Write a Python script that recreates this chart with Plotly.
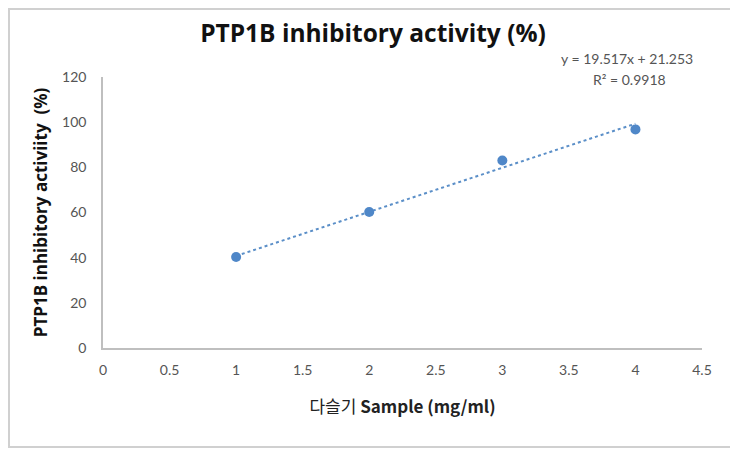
import plotly.graph_objects as go

sample_conc = [1, 2, 3, 4]
inhibition = [40.3, 60.2, 83.0, 96.8]
trend_slope = 19.517
trend_intercept = 21.253
x_ticks = [0, 0.5, 1, 1.5, 2, 2.5, 3, 3.5, 4, 4.5]
y_ticks = [0, 20, 40, 60, 80, 100, 120]

trend_x = [sample_conc[0], sample_conc[-1]]
trend_y = [trend_slope * v + trend_intercept for v in trend_x]

fig = go.Figure()
fig.add_trace(go.Scatter(x=trend_x, y=trend_y, mode="lines",
                         line=dict(color="#5B8FC8", width=2, dash="dot"),
                         hoverinfo="skip", showlegend=False))
fig.add_trace(go.Scatter(x=sample_conc, y=inhibition, mode="markers",
                         marker=dict(color="#4F87C8", size=10),
                         showlegend=False))

tick_font = dict(family="Lato, 'Noto Sans', sans-serif", size=14, color="#555555")
fig.update_layout(
    width=730, height=442,
    margin=dict(l=95, r=36, t=69, b=102),
    paper_bgcolor="white", plot_bgcolor="white",
    title=dict(text="<b>PTP1B inhibitory activity (%)</b>", x=0.5, xanchor="center",
               y=0.942, yanchor="middle",
               font=dict(family="'Open Sans', sans-serif", size=24.5, color="#111111")),
    xaxis=dict(range=[0, 4.5], tickvals=x_ticks, ticktext=[str(v) for v in x_ticks],
               showgrid=False, zeroline=False, showline=True, linecolor="#BFBFBF", linewidth=1.5,
               ticks="", tickfont=tick_font, ticklabelstandoff=8,
               title=dict(text="다슬기 <b>Sample (mg/ml)</b>", standoff=25,
                          font=dict(family="'Noto Sans CJK KR', Lato, sans-serif", size=17, color="#222222"))),
    yaxis=dict(range=[0, 120], tickvals=y_ticks, showgrid=False, zeroline=False,
               showline=True, linecolor="#BFBFBF", linewidth=1.5, ticks="",
               tickfont=tick_font, ticklabelstandoff=12,
               title=dict(text="<b>PTP1B inhibitory activiity  (%)</b>", standoff=10,
                          font=dict(family="'Open Sans', sans-serif", size=17, color="#111111"))),
    annotations=[
        dict(text="y = 19.517x + 21.253", xref="paper", yref="paper", x=0.875, y=1.07,
             showarrow=False, xanchor="center", yanchor="middle",
             font=dict(family="Lato, 'Noto Sans', sans-serif", size=14, color="#555555")),
        dict(text="R² = 0.9918", xref="paper", yref="paper", x=0.879, y=0.992,
             showarrow=False, xanchor="center", yanchor="middle",
             font=dict(family="Lato, 'Noto Sans', sans-serif", size=14, color="#555555")),
    ],
    shapes=[dict(type="rect", xref="paper", yref="paper",
                 x0=-94/599, x1=1 + 33/599, y0=-99/271, y1=1 + 68/271,
                 line=dict(color="#D0D0D0", width=2), fillcolor="rgba(0,0,0,0)", layer="below")],
)

fig.write_html("out.html")
